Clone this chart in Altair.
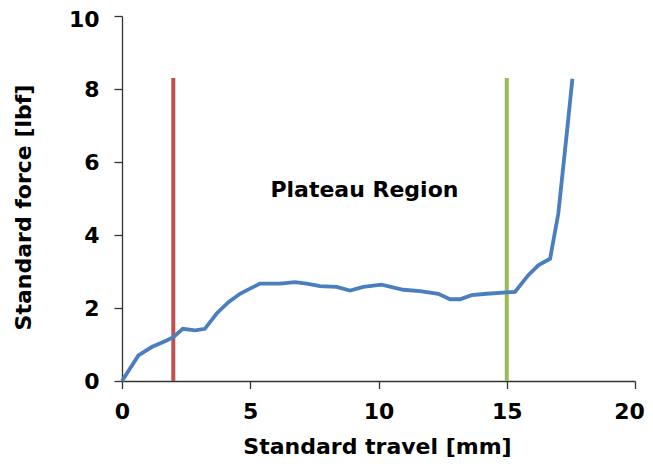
import altair as alt
import pandas as pd

# Blue force–travel curve
travel = [0.0, 0.64, 1.16, 1.74, 2.0, 2.37, 2.85, 3.23, 3.69, 4.15, 4.6, 4.99, 5.38,
          6.16, 6.74, 7.2, 7.72, 8.37, 8.89, 9.41, 10.12, 10.97, 11.62, 12.33, 12.79,
          13.18, 13.63, 14.22, 15.0, 15.32, 15.84, 16.23, 16.69, 17.01, 17.34, 17.56]
force = [0.0, 0.70, 0.93, 1.11, 1.20, 1.43, 1.39, 1.43, 1.85, 2.16, 2.39, 2.53, 2.67,
         2.67, 2.71, 2.67, 2.60, 2.58, 2.48, 2.58, 2.64, 2.50, 2.46, 2.39, 2.24,
         2.24, 2.35, 2.39, 2.43, 2.44, 2.90, 3.17, 3.35, 4.59, 6.78, 8.28]

# Vertical marker lines
marker_x = [2, 15]
marker_top = [8.3, 8.3]
marker_name = ["start", "end"]
marker_color = ["#C0504D", "#9BBB59"]

# Annotation
label_text = ["Plateau Region"]
label_x = [9.45]
label_y = [5.04]

FONT = "DejaVu Sans"

curve = pd.DataFrame({"travel": travel, "force": force})
markers = pd.DataFrame({"x": marker_x, "y0": [0, 0], "y1": marker_top, "name": marker_name})
labels = pd.DataFrame({"x": label_x, "y": label_y, "text": label_text})

xscale = alt.Scale(domain=[0, 20], nice=False, zero=False)
yscale = alt.Scale(domain=[0, 10], nice=False, zero=False)

xaxis = alt.Axis(values=[0, 5, 10, 15, 20], title="Standard travel [mm]", grid=False,
                 domainColor="#333333", domainWidth=1.3, tickColor="#333333", tickWidth=1.3,
                 tickSize=7.5, labelPadding=13, labelFont=FONT, labelFontSize=22,
                 labelFontWeight="bold", labelColor="black", labelFlush=False,
                 labelOffset={"expr": "datum.value == 20 ? -6 : 0"},
                 titleFont=FONT, titleFontSize=22, titleFontWeight="bold", titleColor="black",
                 titleX=255, titleY=72, titleBaseline="alphabetic", titleAlign="center")
yaxis = alt.Axis(values=[0, 2, 4, 6, 8, 10], title="Standard force [lbf]", grid=False,
                 domainColor="#333333", domainWidth=1.3, tickColor="#333333", tickWidth=1.3,
                 tickSize=8, labelPadding=15, labelFont=FONT, labelFontSize=22,
                 labelFontWeight="bold", labelColor="black", labelFlush=False,
                 labelOffset={"expr": "datum.value == 10 ? 3 : 0"},
                 titleFont=FONT, titleFontSize=22, titleFontWeight="bold", titleColor="black",
                 titleAngle=270, titleX=-91.5, titleY=191, titleBaseline="alphabetic",
                 titleAlign="center")

line = alt.Chart(curve).mark_line(color="#4A7EBF", strokeWidth=3.8).encode(
    x=alt.X("travel:Q", scale=xscale, axis=xaxis),
    y=alt.Y("force:Q", scale=yscale, axis=yaxis),
    order="travel:Q",
)

rules = alt.Chart(markers).mark_rule(strokeWidth=4).encode(
    x=alt.X("x:Q", scale=xscale),
    y=alt.Y("y0:Q", scale=yscale),
    y2="y1:Q",
    color=alt.Color("name:N", scale=alt.Scale(domain=marker_name, range=marker_color), legend=None),
)

text = alt.Chart(labels).mark_text(font=FONT, fontSize=22, fontWeight="bold", color="black",
                                   align="center", baseline="alphabetic").encode(
    x=alt.X("x:Q", scale=xscale),
    y=alt.Y("y:Q", scale=yscale),
    text="text:N",
)

chart = alt.layer(rules, line, text).properties(
    width=513, height=365,
    autosize=alt.AutoSizeParams(type="none"),
    padding={"left": 114, "top": 8, "right": 10, "bottom": 77},
    background="white",
).configure_view(stroke=None)

chart.save("out.html", embed_options={"renderer": "svg", "actions": False})
